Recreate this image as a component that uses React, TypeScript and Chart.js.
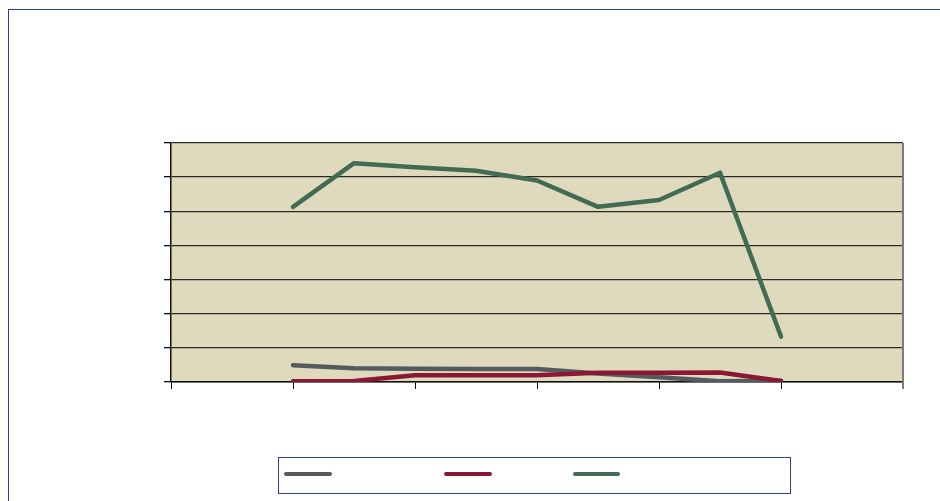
import React, { useEffect, useRef } from "react";
import { Chart, registerables } from "chart.js";

Chart.register(...registerables);

// Category positions (the x axis spans 0..12, tick marks every 2)
const periods = [2, 3, 4, 5, 6, 7, 8, 9, 10];
const seriesGray = [0.49, 0.4, 0.39, 0.38, 0.38, 0.25, 0.14, 0.02, 0.04];
const seriesRed = [0.02, 0.03, 0.2, 0.2, 0.2, 0.27, 0.27, 0.28, 0.03];
const seriesGreen = [5.13, 6.41, 6.29, 6.19, 5.9, 5.13, 5.33, 6.13, 1.33];
const yTicks = [0, 1, 2, 3, 4, 5, 6, 7];
const xTicks = [0, 2, 4, 6, 8, 10, 12];

const GRAY = "#555a5e";
const RED = "#8a1733";
const GREEN = "#426b53";
const FRAME = "#2e3f8f";
const PLOT_BG = "#dfdabd";

const toPoints = (vals: number[]) => vals.map((v, i) => ({ x: periods[i], y: v }));

const plotPlugin = {
  id: "plotDecor",
  beforeDraw(chart: any) {
    const { ctx, chartArea } = chart;
    ctx.save();
    ctx.fillStyle = PLOT_BG;
    ctx.fillRect(chartArea.left, chartArea.top, chartArea.right - chartArea.left, chartArea.bottom - chartArea.top);
    ctx.restore();
  },
  beforeDatasetsDraw(chart: any) {
    const { ctx, chartArea } = chart;
    ctx.save();
    ctx.strokeStyle = "#7d7d77";
    ctx.lineWidth = 2;
    ctx.beginPath();
    ctx.moveTo(chartArea.right, chartArea.top);
    ctx.lineTo(chartArea.right, chartArea.bottom + 7);
    ctx.stroke();
    ctx.restore();
  },
};

export default function App() {
  const canvasRef = useRef<HTMLCanvasElement | null>(null);

  useEffect(() => {
    if (!canvasRef.current) return;
    const lineDs = (data: number[], color: string, order: number) => ({
      data: toPoints(data),
      borderColor: color,
      backgroundColor: color,
      borderWidth: 4.5,
      borderCapStyle: "round" as const,
      borderJoinStyle: "round" as const,
      pointRadius: 0,
      tension: 0,
      order,
    });
    const chart = new Chart(canvasRef.current, {
      type: "line",
      data: {
        datasets: [
          lineDs(seriesGray, GRAY, 3),
          lineDs(seriesRed, RED, 2),
          lineDs(seriesGreen, GREEN, 1),
        ],
      },
      plugins: [plotPlugin],
      options: {
        animation: false,
        responsive: false,
        events: [],
        layout: { padding: { left: 164, top: 143, right: 37, bottom: 112 } },
        plugins: { legend: { display: false }, tooltip: { enabled: false }, title: { display: false } },
        scales: {
          x: {
            type: "linear",
            min: xTicks[0],
            max: xTicks[xTicks.length - 1],
            afterBuildTicks: (s: any) => {
              s.ticks = xTicks.map((v) => ({ value: v }));
            },
            afterFit: (s: any) => {
              s.height = 7;
            },
            ticks: { display: false },
            grid: {
              drawOnChartArea: false,
              drawTicks: true,
              tickLength: 7,
              tickColor: "#111",
              lineWidth: 1,
            },
            border: { display: true, color: "#111", width: 1.5 },
          },
          y: {
            min: yTicks[0],
            max: yTicks[yTicks.length - 1],
            afterBuildTicks: (s: any) => {
              s.ticks = yTicks.map((v) => ({ value: v }));
            },
            afterFit: (s: any) => {
              s.width = 7;
            },
            ticks: { display: false },
            grid: {
              color: "#2a2a26",
              lineWidth: 1.3,
              drawTicks: true,
              tickLength: 7,
              tickColor: "#111",
            },
            border: { display: true, color: "#111", width: 1.5 },
          },
        },
      },
    });
    return () => chart.destroy();
  }, []);

  const swatch = (left: number, width: number, color: string) => (
    <span
      style={{
        position: "absolute",
        left,
        top: 474 - 2,
        width,
        height: 4,
        borderRadius: 2,
        background: color,
      }}
    />
  );

  return (
    <div
      style={{
        position: "fixed",
        left: 0,
        top: 0,
        width: 940,
        height: 501,
        overflow: "hidden",
        background: "#fff",
      }}
    >
      <div
        style={{
          position: "absolute",
          left: 8,
          top: 9,
          width: 1100,
          height: 700,
          border: `1px solid ${FRAME}`,
          boxSizing: "border-box",
        }}
      />
      <canvas ref={canvasRef} width={940} height={501} style={{ position: "absolute", left: 0, top: 0 }} />
      <div
        style={{
          position: "absolute",
          left: 278,
          top: 457,
          width: 513,
          height: 37,
          border: `1px solid ${FRAME}`,
          boxSizing: "border-box",
        }}
      />
      {swatch(284, 48, GRAY)}
      {swatch(444, 48, RED)}
      {swatch(573, 47, GREEN)}
    </div>
  );
}
